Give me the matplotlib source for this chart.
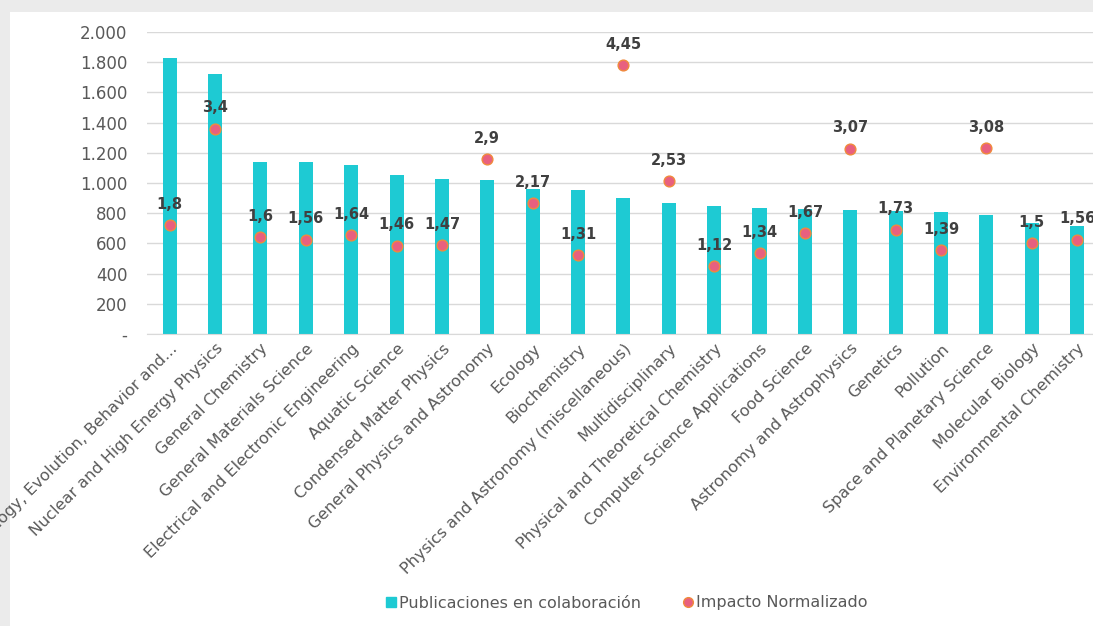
import matplotlib
matplotlib.use('Agg')
from matplotlib import pyplot as plt
from matplotlib.patches import Rectangle
from matplotlib.ticker import FuncFormatter
from matplotlib.lines import Line2D

CATEGORIES = [
    'Ecology, Evolution, Behavior and...',
    'Nuclear and High Energy Physics',
    'General Chemistry',
    'General Materials Science',
    'Electrical and Electronic Engineering',
    'Aquatic Science',
    'Condensed Matter Physics',
    'General Physics and Astronomy',
    'Ecology',
    'Biochemistry',
    'Physics and Astronomy (miscellaneous)',
    'Multidisciplinary',
    'Physical and Theoretical Chemistry',
    'Computer Science Applications',
    'Food Science',
    'Astronomy and Astrophysics',
    'Genetics',
    'Pollution',
    'Space and Planetary Science',
    'Molecular Biology',
    'Environmental Chemistry',
]
PUBLICACIONES = [1830, 1722, 1142, 1137, 1117, 1050, 1025, 1020, 960, 952,
                 900, 865, 850, 832, 830, 820, 815, 810, 785, 735, 712]
IMPACTO = [1.8, 3.4, 1.6, 1.56, 1.64, 1.46, 1.47, 2.9, 2.17, 1.31,
           4.45, 2.53, 1.12, 1.34, 1.67, 3.07, 1.73, 1.39, 3.08, 1.5, 1.56]

BAR_COLOR = '#1ECAD3'
DOT_COLOR = '#E8607F'
DOT_EDGE = '#F08A3C'
TEXT_GRAY = '#595959'

plt.rcParams['font.family'] = ['DejaVu Sans']

fig = plt.figure(figsize=(10.93, 6.26), dpi=100)
fig.patch.set_facecolor('#EBEBEB')
fig.patches.append(Rectangle((10 / 1093, 0), 1, 1 - 12 / 626, transform=fig.transFigure,
                             facecolor='white', edgecolor='none', zorder=-10))

ax = fig.add_axes([147 / 1093, 1 - 334 / 626, 1 - 147 / 1093, (334 - 32) / 626])
ax.set_facecolor('none')
x = list(range(len(CATEGORIES)))
ax.bar(x, PUBLICACIONES, width=0.31, color=BAR_COLOR, zorder=2)
ax.set_xlim(-0.5, 20.35)
ax.set_ylim(0, 2000)
ax.set_yticks(range(0, 2001, 200))
ax.yaxis.set_major_formatter(FuncFormatter(
    lambda v, p: '-' if v == 0 else f'{int(v):,}'.replace(',', '.')))
ax.grid(axis='y', color='#D9D9D9', linewidth=1, zorder=0)
for s in ['top', 'right', 'left']:
    ax.spines[s].set_visible(False)
ax.spines['bottom'].set_color('#D9D9D9')
ax.tick_params(axis='y', length=0, pad=14, labelsize=12, labelcolor=TEXT_GRAY)
ax.tick_params(axis='x', length=0, pad=5, labelsize=11.5, labelcolor=TEXT_GRAY)
ax.set_xticks(x)
ax.set_xticklabels(CATEGORIES, rotation=45, ha='right', rotation_mode='anchor')

ax2 = ax.twinx()
ax2.set_ylim(0, 5)
ax2.axis('off')
ax2.scatter(x, IMPACTO, s=60, color=DOT_COLOR, edgecolors=DOT_EDGE, linewidths=1, zorder=3)
for xi, v in zip(x, IMPACTO):
    ax2.annotate(f'{v:g}'.replace('.', ','), (xi, v), xytext=(0, 15), textcoords='offset points',
                 ha='center', va='center', fontsize=10.5, fontweight='bold', color='#404040')

handles = [
    Line2D([], [], marker='s', linestyle='none', markersize=7, color=BAR_COLOR),
    Line2D([], [], marker='o', linestyle='none', markersize=7, markerfacecolor=DOT_COLOR,
           markeredgecolor=DOT_EDGE),
]
fig.legend(handles, ['Publicaciones en colaboración', 'Impacto Normalizado'],
           loc='center', bbox_to_anchor=(626 / 1093, 1 - 603 / 626), ncol=2, frameon=False,
           fontsize=11.5, labelcolor=TEXT_GRAY, handletextpad=0.1, columnspacing=2.5,
           handlelength=0.8)

fig.savefig('out.png', dpi=100)
